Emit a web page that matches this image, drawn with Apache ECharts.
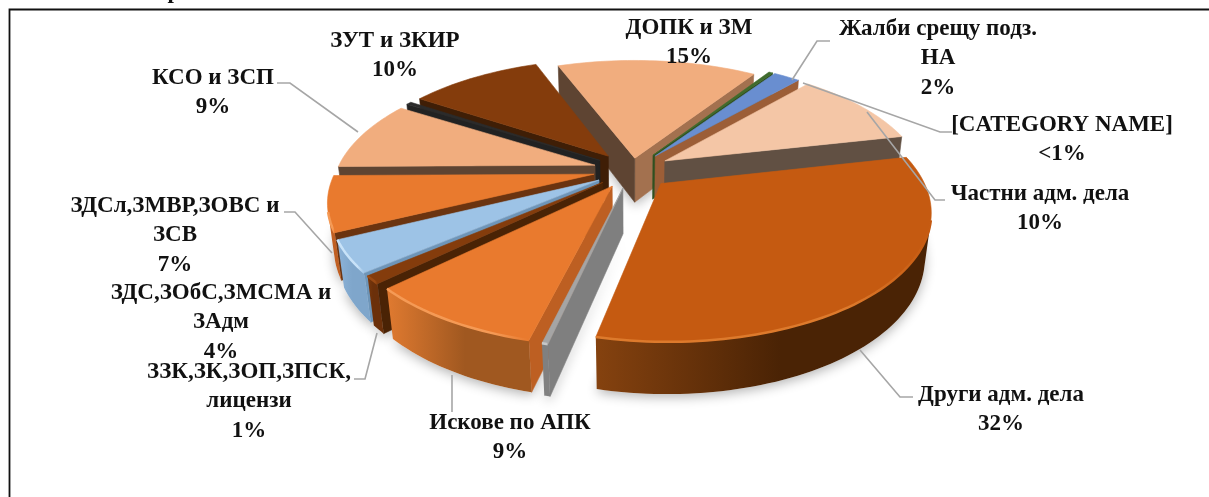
<!DOCTYPE html>
<html><head><meta charset="utf-8">
<style>html,body{margin:0;padding:0;background:#fff}#c{width:1209px;height:497px}</style>
<script src="https://cdn.jsdelivr.net/npm/echarts@6/dist/echarts.min.js"></script></head>
<body><div id="c"></div>
<script>
// Data, counter-clockwise from the Частни / Други boundary
const categories = ['Частни адм. дела','Жалби срещу подз. НА','[CATEGORY NAME]','ДОПК и ЗМ','ЗУТ и ЗКИР','Other A','КСО и ЗСП','ЗДСл,ЗМВР,ЗОВС и ЗСВ','ЗДС,ЗОбС,ЗМСМА и ЗАдм','ЗЗК,ЗК,ЗОП,ЗПСК, лицензи','Искове по АПК','Other B','Други адм. дела'];
const values = [10,2,0.3,15,10,0.4,9,7,4,1,9,0.3,32];
// Styling per slice
const explode = [0.15,0.15,0.15,0.1,0.15,0.15,0.15,0.15,0.15,0.15,0.15,0.15,0.155];
const topColor = ['#F4C6A6','#698ED0','#3F6B2C','#F1AD7E','#843C0C','#2B2B2B','#F1AD7E','#E97A2E','#9DC3E6','#843C0C','#E97A2E','#A5A5A5','#C55A11'];
const wallA = ['#615043','#9C5E37','#2F5020','#A3714F','#4A2305','#3a3a3a','#5E4432','#6B3410','#6E95B8','#4A2305','#BD5F22','#7F7F7F','#4A2305'];
const wallB = ['#615043','#4C6BA0','#2F5020','#5E4432','#3F1E06','#222222','#5E4432','#6B3410','#6E95B8','#4A2305','#BD5F22','#7F7F7F','#4A2305'];
const outerC = [['#C79F86','#A38572'],['#5B7BB5','#4C6BA0'],['#2F5020','#2F5020'],['#B5825F','#A3714F'],['#5E2B08','#5E2B08'],['#222','#222'],['#B5825F','#A3714F'],['#E97A2E','#C05F22'],['#8DB3D8','#7FA6CB'],['#7A380C','#6B300A'],['#E07A30','#A05820'],['#808080','#808080'],['#85420F','#4A2305']];
const bevel = [null,null,null,null,null,null,null,'#F59A55','#C8E2F8','#9A4A14','#F59A55','#C8C8C8','#DD7A2C'];
const startAngle = 12.5, totalDeg = 360;
const labels = [
 {lines:['Частни адм. дела','10%'],x:1040,y:194,pts:[[867,112],[935,200],[945,200]]},
 {lines:['Жалби срещу подз.','НА','2%'],x:938,y:29,pts:[[792,80],[817,41],[830,41]]},
 {lines:['[CATEGORY NAME]','<1%'],x:1062,y:125,pts:[[803,83],[940,132],[952,132]]},
 {lines:['ДОПК и ЗМ','15%'],x:689,y:28,pts:[]},
 {lines:['ЗУТ и ЗКИР','10%'],x:395,y:41,pts:[]},
 {lines:[],x:0,y:0,pts:[]},
 {lines:['КСО и ЗСП','9%'],x:213,y:78,pts:[[358,132],[290,83],[277,83]]},
 {lines:['ЗДСл,ЗМВР,ЗОВС и','ЗСВ','7%'],x:175,y:206,pts:[[332,253],[295,212],[284,212]]},
 {lines:['ЗДС,ЗОбС,ЗМСМА и','ЗАдм','4%'],x:221,y:293,pts:[]},
 {lines:['ЗЗК,ЗК,ЗОП,ЗПСК,','лицензи','1%'],x:249,y:372,pts:[[377,333],[365,379],[354,379]]},
 {lines:['Искове по АПК','9%'],x:510,y:423,pts:[[452,375],[452,412]]},
 {lines:[],x:0,y:0,pts:[]},
 {lines:['Други адм. дела','32%'],x:1001,y:395,pts:[[860,350],[900,397],[913,397]]}
];
// Camera
const CX=632, CY=170, D=4.5, F=258*D, PHI=28*Math.PI/180, H=0.2, R=1;
const sinP=Math.sin(PHI), cosP=Math.cos(PHI);
function project(X,Y,Z){ // Y towards viewer, Z up
  const s=F/(D-(Y*cosP+Z*sinP));
  return [CX+X*s, CY+(Y*sinP-Z*cosP)*s];
}
const total=values.reduce((a,b)=>a+b,0);
let acc=startAngle; const spans=values.map(v=>{const a=acc, b=acc+v/total*totalDeg; acc=b; return [a,b];});
const order=values.map((_,i)=>i).sort((p,q)=>{
  const mp=(spans[p][0]+spans[p][1])/2*Math.PI/180, mq=(spans[q][0]+spans[q][1])/2*Math.PI/180;
  return Math.sin(mq)-Math.sin(mp);
});
function area(p){let a=0;for(let i=0;i<p.length;i++){const u=p[i],v=p[(i+1)%p.length];a+=u[0]*v[1]-v[0]*u[1];}return a;}
function sliceShapes(i){
  const [a0,b0]=spans[i]; const a=a0*Math.PI/180,b=b0*Math.PI/180,m=(a+b)/2;
  const ox=explode[i]*Math.cos(m), oy=-explode[i]*Math.sin(m);
  const P=(t,r,z)=>project(ox+r*Math.cos(t),oy-r*Math.sin(t),z);
  const n=Math.max(4,Math.ceil((b0-a0)/1.5));
  const arcT=[],arcB=[];
  for(let k=0;k<=n;k++){const t=a+(b-a)*k/n;arcT.push(P(t,R,0));arcB.push(P(t,R,-H));}
  return {top:[P(0,0,0),...arcT],arcT,arcB,apexT:P(0,0,0),apexB:P(0,0,-H)};
}
const chart=echarts.init(document.getElementById('c'),null,{renderer:'canvas'});
function renderShadow(params,api){
  const s=sliceShapes(api.value(0));
  return {type:'polygon',shape:{points:[s.apexB,...s.arcB]},style:{fill:'#fff',shadowBlur:12,shadowColor:'rgba(0,0,0,0.3)',shadowOffsetY:3}};
}
function renderItem(params,api){
  const i=order[api.value(0)];
  const s=sliceShapes(i);
  const kids=[];
  const poly=(pts,fill)=>kids.push({type:'polygon',shape:{points:pts},style:{fill:fill,stroke:fill,lineWidth:0.6}});
  const wa=[s.apexT,s.arcT[0],s.arcB[0],s.apexB];
  const last=s.arcT.length-1;
  const wb=[s.apexT,s.apexB,s.arcB[last],s.arcT[last]];
  if(area(wa)>0) poly(wa,wallA[i]);
  if(area(wb)>0) poly(wb,wallB[i]);
  const top=[],bot=[];
  for(let k=0;k<last;k++){
    const q=[s.arcT[k],s.arcT[k+1],s.arcB[k+1],s.arcB[k]];
    if(area(q)>0){
      if(!top.length){top.push(s.arcT[k]);bot.push(s.arcB[k]);}
      top.push(s.arcT[k+1]);bot.push(s.arcB[k+1]);
    }
  }
  let x0=0,x1=1;
  if(top.length){
    const xs=top.map(p=>p[0]);x0=Math.min(...xs);x1=Math.max(...xs);
    const grad=new echarts.graphic.LinearGradient(x0,0,x1,0,[{offset:0,color:outerC[i][0]},{offset:0.55,color:outerC[i][1]},{offset:1,color:outerC[i][1]}],true);
    kids.push({type:'polygon',shape:{points:[...top,...bot.slice().reverse()]},style:{fill:grad}});
  }
  poly(s.top,topColor[i]);
  if(bevel[i]&&top.length){
    const g=new echarts.graphic.LinearGradient(x0,0,x1,0,[{offset:0,color:bevel[i]},{offset:0.75,color:bevel[i]},{offset:1,color:topColor[i]}],true);
    kids.push({type:'polyline',shape:{points:top},style:{stroke:g,lineWidth:2.5,fill:null}});
  }
  return {type:'group',children:kids};
}
const textItems=[],lineItems=[];
labels.forEach(l=>{
  if(l.pts.length) lineItems.push({type:'polyline',shape:{points:l.pts},style:{stroke:'#A6A6A6',lineWidth:1.6,fill:null},z:20});
  l.lines.forEach((t,k)=>textItems.push({type:'text',x:l.x,y:l.y+k*29.5,style:{text:t,fill:'#111',font:'bold 23px "Liberation Serif"',textAlign:'center',textVerticalAlign:'middle'},z:21}));
});
chart.setOption({
  animation:false,
  graphic:{elements:[
    {type:'rect',shape:{x:9.5,y:9.5,width:1300,height:600},style:{fill:'#fff',stroke:'#111',lineWidth:1.8},z:-10},
    {type:'text',x:174,y:-8,style:{text:'р',fill:'#111',font:'bold 23px "Liberation Serif"',textAlign:'center',textVerticalAlign:'middle'},z:21},
    ...lineItems,...textItems]},
  series:[
   {type:'custom',coordinateSystem:'none',renderItem:renderShadow,data:values.map((v,i)=>[i,v]),silent:true,z:4,clip:false},
   {type:'custom',coordinateSystem:'none',renderItem,data:values.map((v,i)=>[i,v]),silent:true,z:5,clip:false}
  ]
});
</script></body></html>
